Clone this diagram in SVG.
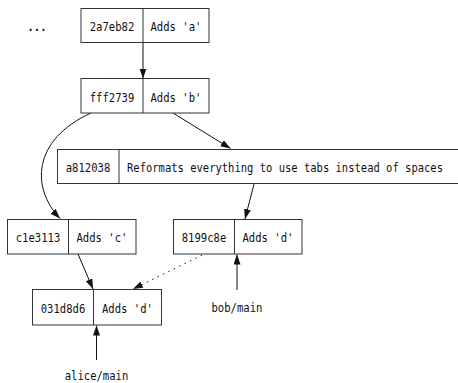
<svg xmlns="http://www.w3.org/2000/svg" width="458" height="383" viewBox="0 0 458 383">
<style>
rect{fill:#fff;stroke:#333;stroke-width:1}
.div{stroke:#333;stroke-width:1}
text{font-family:"DejaVu Sans Mono","Liberation Mono",monospace;font-size:13px;fill:#111}
.c{text-anchor:middle}
.e{fill:none;stroke:#111;stroke-width:1}
.dot{stroke-dasharray:1.5 4.5}
</style>
<defs>
<marker id="ah" markerUnits="userSpaceOnUse" markerWidth="10" markerHeight="8" refX="10" refY="3.5" orient="auto"><path d="M0,0 L10,3.5 L0,7 z" fill="#111"/></marker>
</defs>
<text class="c" x="37" y="31" textLength="19" lengthAdjust="spacingAndGlyphs" font-weight="bold">...</text>
<g id="edges">
<path class="e" d="M143,42.5 L143,78.5" marker-end="url(#ah)"/>
<path class="e" d="M91,113 C32,140 31,188 60,218.5" marker-end="url(#ah)"/>
<path class="e" d="M173,113 L230.5,148.5" marker-end="url(#ah)"/>
<path class="e" d="M254,184 L245,219" marker-end="url(#ah)"/>
<path class="e" d="M78,254 L93,289" marker-end="url(#ah)"/>
<path class="e dot" d="M202,255 L133,289" marker-end="url(#ah)"/>
<path class="e" d="M237,290 L237,254.5" marker-end="url(#ah)"/>
<path class="e" d="M96.5,360 L96.5,325.5" marker-end="url(#ah)"/>
</g>
<g id="n2a7eb82">
<rect x="81" y="8.5" width="128" height="34"/>
<line class="div" x1="143" y1="8.5" x2="143" y2="42.5"/>
<text class="c" x="112" y="31" textLength="44.5" lengthAdjust="spacingAndGlyphs">2a7eb82</text>
<text class="c" x="176" y="31" textLength="51" lengthAdjust="spacingAndGlyphs">Adds 'a'</text>
</g>
<g id="nfff2739">
<rect x="81" y="78.5" width="128" height="34.5"/>
<line class="div" x1="143" y1="78.5" x2="143" y2="113"/>
<text class="c" x="112" y="101.5" textLength="44.5" lengthAdjust="spacingAndGlyphs">fff2739</text>
<text class="c" x="176" y="101.5" textLength="51" lengthAdjust="spacingAndGlyphs">Adds 'b'</text>
</g>
<g id="na812038">
<rect x="57.5" y="149.5" width="401.5" height="34"/>
<line class="div" x1="119" y1="149.5" x2="119" y2="183.5"/>
<text class="c" x="88" y="171.5" textLength="44.5" lengthAdjust="spacingAndGlyphs">a812038</text>
<text x="127" y="171.5" textLength="316" lengthAdjust="spacingAndGlyphs">Reformats everything to use tabs instead of spaces</text>
</g>
<g id="nc1e3113">
<rect x="7.5" y="219.5" width="128.5" height="34.5"/>
<line class="div" x1="68.5" y1="219.5" x2="68.5" y2="254"/>
<text class="c" x="38" y="242" textLength="44.5" lengthAdjust="spacingAndGlyphs">c1e3113</text>
<text class="c" x="102" y="242" textLength="51" lengthAdjust="spacingAndGlyphs">Adds 'c'</text>
</g>
<g id="n8199c8e">
<rect x="173.5" y="219.5" width="128.5" height="34.5"/>
<line class="div" x1="234.5" y1="219.5" x2="234.5" y2="254"/>
<text class="c" x="204" y="242" textLength="44.5" lengthAdjust="spacingAndGlyphs">8199c8e</text>
<text class="c" x="268" y="242" textLength="51" lengthAdjust="spacingAndGlyphs">Adds 'd'</text>
</g>
<g id="n031d8d6">
<rect x="32.5" y="289.5" width="129" height="35.5"/>
<line class="div" x1="93.5" y1="289.5" x2="93.5" y2="325"/>
<text class="c" x="63" y="312.5" textLength="44.5" lengthAdjust="spacingAndGlyphs">031d8d6</text>
<text class="c" x="127.5" y="312.5" textLength="51" lengthAdjust="spacingAndGlyphs">Adds 'd'</text>
</g>
<g id="bobmain">
<text class="c" x="237" y="312" textLength="51" lengthAdjust="spacingAndGlyphs">bob/main</text>
</g>
<g id="alicemain">
<text class="c" x="96.5" y="380" textLength="63.5" lengthAdjust="spacingAndGlyphs">alice/main</text>
</g>
</svg>
